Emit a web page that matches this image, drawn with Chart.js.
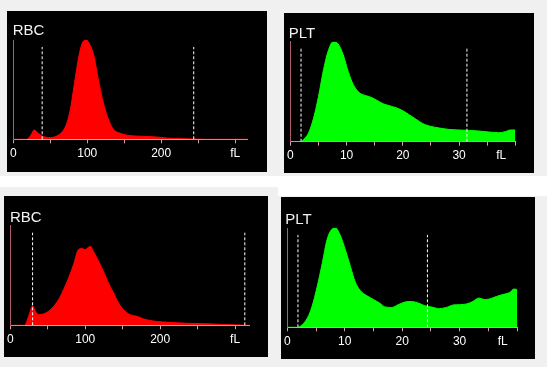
<!DOCTYPE html>
<html><head><meta charset="utf-8">
<script src="https://cdn.jsdelivr.net/npm/chart.js@4.4.1/dist/chart.umd.min.js"></script>
<style>
html,body{margin:0;padding:0;}
body{width:547px;height:367px;position:relative;background:#fff;overflow:hidden;}
.bg{position:absolute;background:#f0f0f0;}
.panel{position:absolute;background:#000;}
canvas{display:block;}
</style></head><body>
<div class="bg" style="left:0;top:0;width:547px;height:176px"></div>
<div class="bg" style="left:0;top:187px;width:278px;height:180px"></div>
<div class="bg" style="left:278px;top:196px;width:269px;height:171px"></div>
<div class="panel" style="left:7px;top:11px;width:260px;height:161px"><canvas id="c1" width="260" height="161"></canvas></div>
<div class="panel" style="left:284px;top:13px;width:250px;height:160px"><canvas id="c2" width="250" height="160"></canvas></div>
<div class="panel" style="left:4px;top:196px;width:264px;height:161px"><canvas id="c3" width="264" height="161"></canvas></div>
<div class="panel" style="left:281px;top:197px;width:254px;height:162px"><canvas id="c4" width="254" height="162"></canvas></div>
<script>
// ---- data ----
const rbcTickValues = [0, 50, 100, 150, 200, 250, 300];
const rbcTickLabels = ['0', '', '100', '', '200', '', 'fL'];
const rbcTickMarks  = [true, true, true, true, true, true, true];
const pltTickValues = [0, 5, 10, 15, 20, 25, 30, 35, 37.5, 40];
const pltTickLabels = ['0', '', '10', '', '20', '', '30', '', 'fL', ''];
const pltTickMarks  = [true, true, true, true, true, true, true, true, false, true];

const gateTop = 93;

const rbc1Title = 'RBC';
const rbc1Gates = [39, 244];
const rbc1X = [0, 18, 21, 24, 28, 33, 39, 48, 57, 64, 70.5, 77, 82.6, 88.5, 94, 99, 103, 108.7, 115, 122, 129, 135.6, 144.6, 158, 176, 194, 207, 225, 243, 260, 317];
const rbc1Y = [0, 0, 1.5, 4.5, 9.4, 6.5, 3.4, 1.7, 2.7, 6, 12.8, 29.5, 56, 83, 98, 100, 96, 85, 60, 36, 19.5, 10, 6, 3.7, 3, 2.3, 1.3, 0.7, 0.3, 0, 0];

const plt1Title = 'PLT';
const plt1Gates = [1.9, 31.4];
const plt1X = [0, 1.76, 2.35, 3.2, 4.1, 5.0, 5.9, 6.8, 7.6, 8.5, 9.4, 10.3, 11.2, 12.1, 12.9, 14.1, 15.3, 16.5, 17.6, 18.8, 20, 21.2, 22.4, 23.5, 24.7, 26.5, 28.2, 30, 31.8, 33.5, 35.3, 37, 38.2, 39.1, 40];
const plt1Y = [0, 0, 2.3, 8.3, 23, 45, 72, 92, 100, 97.7, 87, 70, 57, 50, 47, 45, 41.7, 38, 36, 34, 31, 26.7, 22.3, 18.3, 15.7, 13.7, 12.3, 11.7, 11.3, 10.7, 9.7, 9, 10, 11.7, 11.7];

const rbc2Title = 'RBC';
const rbc2Gates = [29.7, 313];
const rbc2X = [0, 19, 24.4, 29.8, 33.3, 37.8, 44.4, 51, 57.8, 64.4, 71, 77.8, 84.4, 91, 95.6, 100, 103, 106.7, 111, 118, 124.4, 131, 137.8, 144.4, 151, 160, 169, 177.8, 191, 204, 218, 235.6, 253, 271, 289, 307, 319];
const rbc2Y = [0, 0, 9, 19.7, 14, 10.7, 11.4, 14, 19, 25.8, 35.8, 47.5, 61, 76, 77, 76, 77.6, 79.3, 74, 64, 54, 42.5, 32.4, 22.4, 15.7, 10.7, 9, 6.4, 4.3, 3.3, 2.7, 2, 1.7, 1.3, 0.7, 0.3, 0];

const plt2Title = 'PLT';
const plt2Gates = [1.85, 24.4];
const plt2X = [0, 1.85, 2.6, 3.5, 4.3, 5.2, 6.1, 6.9, 7.8, 8.4, 9.2, 10.1, 11, 11.8, 12.7, 13.8, 15, 16.2, 17, 18.2, 19.3, 20.5, 21.6, 22.8, 23.9, 25.1, 26.5, 27.7, 28.9, 30, 31.2, 32.3, 33.4, 34.3, 35.2, 36.4, 37.5, 38.7, 39.5, 40];
const plt2Y = [0, 0, 2.7, 9.4, 21, 41, 65, 88, 99, 100, 93, 78, 61, 46, 37, 32, 28, 24, 20.5, 20, 22.8, 25.5, 26, 24.5, 21.8, 20.5, 18.8, 20, 22.5, 22.8, 23.5, 26, 29.5, 28, 28.5, 31, 33, 35, 38.6, 38];

// ---- drawing ----
const xAxisColor = '#d8a0a8';
const yAxisColor = '#b05a6e';
Chart.defaults.font.family = "'Liberation Sans', Arial, sans-serif";

function makePanel(id, o) {
  const cv = document.getElementById(id);
  const W = cv.width, H = cv.height;
  const ds = [];
  o.gates.forEach(g => ds.push({
    data: [{x: g, y: 0}, {x: g, y: gateTop}], borderColor: '#ffffff', borderWidth: 1,
    borderDash: [3, 2], pointRadius: 0, fill: false, order: 0
  }));
  ds.push({
    data: o.xs.map((x, i) => ({x: x, y: o.ys[i]})), borderColor: o.color, backgroundColor: o.color,
    borderWidth: 1, fill: 'origin', pointRadius: 0, cubicInterpolationMode: 'monotone', order: 1
  });
  new Chart(cv, {
    type: 'line',
    data: {datasets: ds},
    options: {
      responsive: false, animation: false, devicePixelRatio: 1,
      layout: {padding: {left: o.left, right: W - o.right, top: 0, bottom: 0}},
      plugins: {
        legend: {display: false}, tooltip: {enabled: false},
        title: {display: true, text: o.title, align: 'start', color: '#f2f2f2',
          font: {size: 15, lineHeight: 1, weight: 'normal'},
          padding: {top: o.tp, bottom: o.top - 15 - o.tp}}
      },
      scales: {
        x: {
          type: 'linear', min: 0, max: o.xmax,
          afterBuildTicks: s => { s.ticks = o.tickVals.map(v => ({value: v})); },
          afterFit: s => { s.height = H - o.base; },
          ticks: {autoSkip: false, maxRotation: 0, color: '#ffffff', font: {size: 12}, padding: 3,
            callback: (v, i) => o.tickLabels[i]},
          grid: {drawOnChartArea: false, drawTicks: true, tickLength: 4,
            color: ctx => (o.tickMarks[ctx.index] ? xAxisColor : 'rgba(0,0,0,0)')},
          border: {display: true, color: xAxisColor, width: 1}
        },
        y: {
          min: 0, max: 100,
          afterFit: s => { s.width = 0; },
          ticks: {display: false},
          grid: {display: false, drawTicks: false},
          border: {display: true, color: yAxisColor, width: 1}
        }
      }
    }
  });
}

makePanel('c1', {title: rbc1Title, gates: rbc1Gates, xs: rbc1X, ys: rbc1Y, color: '#ff0000',
  xmax: 317, tickVals: rbcTickValues, tickLabels: rbcTickLabels, tickMarks: rbcTickMarks,
  left: 5.7, right: 240.7, top: 29, base: 128.3, tp: 12});
makePanel('c2', {title: plt1Title, gates: plt1Gates, xs: plt1X, ys: plt1Y, color: '#00ff00',
  xmax: 40, tickVals: pltTickValues, tickLabels: pltTickLabels, tickMarks: pltTickMarks,
  left: 4.7, right: 231.3, top: 28.7, base: 128.7, tp: 13});
makePanel('c3', {title: rbc2Title, gates: rbc2Gates, xs: rbc2X, ys: rbc2Y, color: '#ff0000',
  xmax: 319, tickVals: rbcTickValues, tickLabels: rbcTickLabels, tickMarks: rbcTickMarks,
  left: 6, right: 245.3, top: 29.7, base: 129.3, tp: 14});
makePanel('c4', {title: plt2Title, gates: plt2Gates, xs: plt2X, ys: plt2Y, color: '#00ff00',
  xmax: 40, tickVals: pltTickValues, tickLabels: pltTickLabels, tickMarks: pltTickMarks,
  left: 4.3, right: 236, top: 31, base: 130.3, tp: 15});
</script>
</body></html>
